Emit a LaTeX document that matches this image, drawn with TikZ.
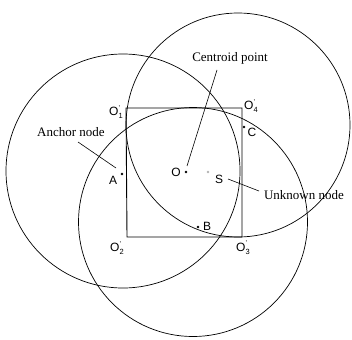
\documentclass[tikz,border=0pt]{standalone}
\usepackage{fontspec}
\setmainfont{Liberation Serif}
\setsansfont{Liberation Sans}
\newcommand{\Oprime}[1]{O\kern0.3pt\rlap{\raisebox{5.8pt}{\fontsize{7}{7}\selectfont '}}\raisebox{-3pt}{\fontsize{7.5}{7.5}\selectfont #1}}
\tikzset{
  circ/.style={draw, line width=0.7pt},
  sq/.style={draw, line width=0.9pt},
  dotpt/.style={circle, fill=black, inner sep=0pt, minimum size=2.6pt},
  letter/.style={font=\sffamily\fontsize{12}{12}\selectfont, inner sep=1pt},
  caption/.style={font=\rmfamily\fontsize{13}{13}\selectfont, inner sep=1pt},
  lead/.style={draw, line width=0.6pt}
}
\begin{document}
\begin{tikzpicture}[x=1pt,y=-1pt]
\useasboundingbox (0,0) rectangle (352,339);
% circles
\draw[circ] (123,171) circle (117);
\draw[circ] (238,125) circle (112);
\draw[circ] (193,222) circle (114.5);
% square
\coordinate (o1) at (126,108);
\coordinate (o4) at (242,108);
\coordinate (o3) at (242,237);
\coordinate (o2) at (127,237);
\draw[sq] (o1) -- (o4) -- (o3) -- (o2) -- cycle;
% corner labels
\node[letter] (l1) at (116,112) {\Oprime{1}};
\node[letter] (l4) at (251,106) {\Oprime{4}};
\node[letter] (l2) at (117,248) {\Oprime{2}};
\node[letter] (l3) at (243,248) {\Oprime{3}};
% points
\node[dotpt] (A) at (122,174) {};
\node[letter] (Al) at (113,180) {A};
\node[dotpt] (O) at (186,172) {};
\node[letter] (Ol) at (176,172) {O};
\node[dotpt, fill=gray!60] (S) at (208,172) {};
\node[letter] (Sl) at (219,179) {S};
\node[dotpt] (B) at (198,227) {};
\node[letter] (Bl) at (207,226) {B};
\node[dotpt] (C) at (244,127) {};
\node[letter] (Cl) at (252,132) {C};
% captions
\node[caption] (cent) at (230,58) {Centroid point};
\node[caption] (anch) at (71,132) {Anchor node};
\node[caption] (unk) at (304,195) {Unknown node};
\coordinate (c1) at (217,70);
\coordinate (c2) at (187,166);
\draw[lead] (c1) -- (c2);
\coordinate (a1) at (78,142);
\coordinate (a2) at (116,168);
\draw[lead] (a1) -- (a2);
\coordinate (u1) at (228,179);
\coordinate (u2) at (259,191);
\draw[lead] (u1) -- (u2);
\end{tikzpicture}
\end{document}
